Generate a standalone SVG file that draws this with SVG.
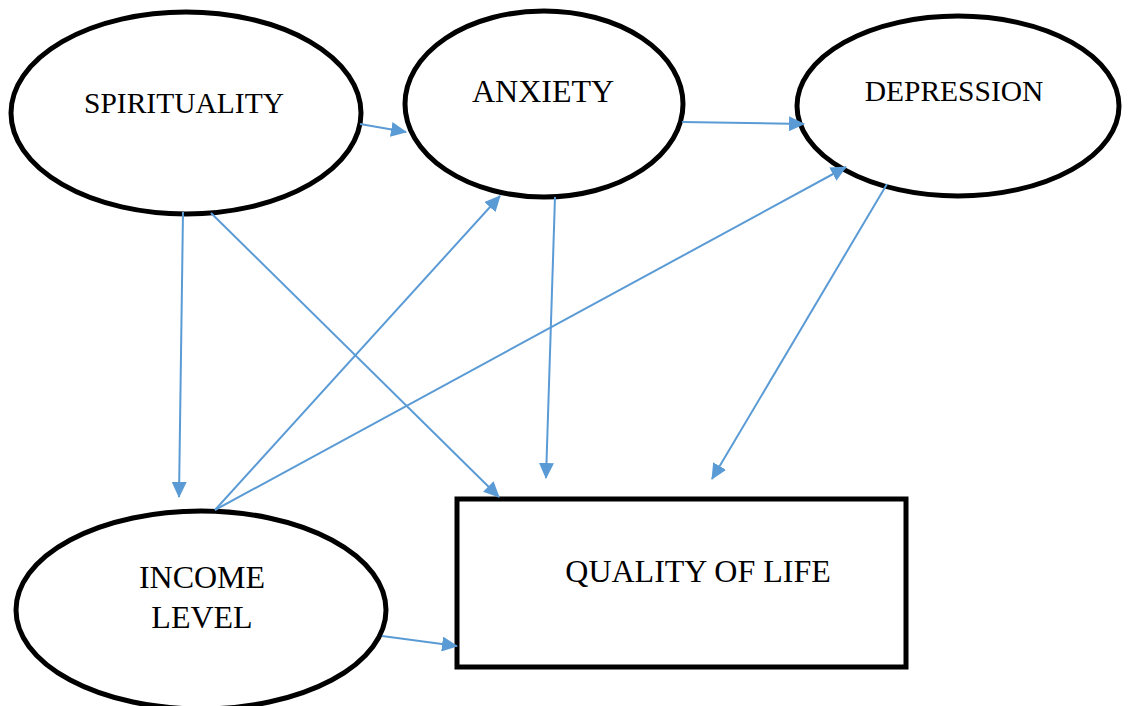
<svg xmlns="http://www.w3.org/2000/svg" width="1129" height="706" viewBox="0 0 1129 706">
<style>
.node{fill:#fff;stroke:#000;stroke-width:5}
.lbl{font-family:"Liberation Serif","Times New Roman",serif;font-size:32px;fill:#000;text-anchor:middle}
.sm{font-size:29.5px}
.edge{stroke:#5B9BD5;stroke-width:2;fill:none;marker-end:url(#ah)}
</style>
<defs>
<marker id="ah" markerUnits="userSpaceOnUse" markerWidth="16" markerHeight="15" refX="15" refY="7.5" orient="auto">
<path d="M0,0 L16,7.5 L0,15 Z" fill="#5B9BD5"/>
</marker>
</defs>
<rect width="1129" height="706" fill="#fff"/>
<g id="spirituality"><ellipse class="node" cx="186" cy="113" rx="175" ry="101"/><text class="lbl sm" x="184" y="113">SPIRITUALITY</text></g>
<g id="anxiety"><ellipse class="node" cx="544" cy="104" rx="139" ry="93"/><text class="lbl" x="543" y="102">ANXIETY</text></g>
<g id="depression"><ellipse class="node" cx="958" cy="106" rx="161" ry="90"/><text class="lbl sm" x="954" y="101">DEPRESSION</text></g>
<g id="income"><ellipse class="node" cx="201" cy="610" rx="185" ry="99"/><text class="lbl" x="202" y="588">INCOME</text><text class="lbl" x="202" y="628">LEVEL</text></g>
<g id="qol"><rect class="node" x="457" y="499" width="449" height="168"/><text class="lbl" x="698" y="582">QUALITY OF LIFE</text></g>
<g id="connectors">
<line class="edge" x1="360" y1="124" x2="406" y2="132"/>
<line class="edge" x1="682" y1="122" x2="804" y2="124"/>
<line class="edge" x1="183" y1="212" x2="179" y2="497"/>
<line class="edge" x1="211" y1="213" x2="499" y2="497"/>
<line class="edge" x1="215" y1="510" x2="500" y2="196"/>
<line class="edge" x1="215" y1="510" x2="846" y2="167"/>
<line class="edge" x1="555" y1="197" x2="546" y2="478"/>
<line class="edge" x1="887" y1="184" x2="712" y2="479"/>
<line class="edge" x1="382" y1="636" x2="457" y2="646"/>
</g>
</svg>
